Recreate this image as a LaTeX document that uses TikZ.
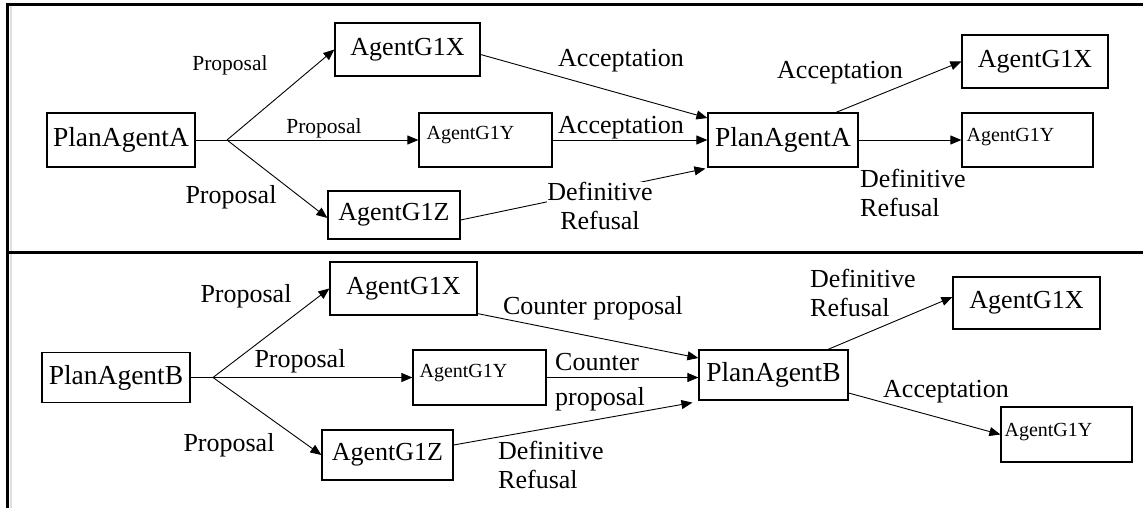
\documentclass[tikz,border=0pt]{standalone}
\usepackage{fontspec}
\setmainfont{Liberation Serif}
\usetikzlibrary{arrows.meta}
\begin{document}
\begin{tikzpicture}[x=1pt,y=-1pt,
  agent/.style 2 args={draw, line width=1.2pt, inner sep=0pt,
    minimum width=#1pt, minimum height=#2pt, font=\fontsize{26}{29}\selectfont},
  planner/.style={font=\fontsize{27.5}{30}\selectfont},
  plainbox/.style 2 args={draw, line width=1.2pt, inner sep=0pt,
    minimum width=#1pt, minimum height=#2pt},
  smalltext/.style={inner sep=0pt, anchor=west, font=\fontsize{20}{23}\selectfont},
  lbl/.style={inner sep=1pt, font=\fontsize{26}{29}\selectfont},
  slbl/.style={inner sep=1pt, font=\fontsize{21.5}{24}\selectfont},
  msg/.style={line width=0.9pt, -{Triangle[length=11pt,width=9pt]}},
  stem/.style={line width=0.9pt},
  frame/.style={line width=3pt}]

\useasboundingbox (0,0) rectangle (1143,508);

% panel frame
\draw[gray!25, line width=2pt] (10.5,6) -- (10.5,508);
\draw[frame] (7.5,3.5) -- (7.5,508);
\draw[frame] (6,5) -- (1143,5);
\draw[frame] (6,252.5) -- (1143,252.5);

% ---------- first negotiation ----------
\node[agent={148}{54}, planner] (PA1) at (121,140) {PlanAgentA};
\node[agent={145}{53}] (X1) at (407.5,49.5) {AgentG1X};
\node[plainbox={133}{54}] (Y1) at (485.5,140) {};
\node[smalltext] (Y1t) at ([xshift=8pt,yshift=5pt]Y1.west) {AgentG1Y};
\node[agent={132}{48}] (Z1) at (394,215) {AgentG1Z};
\node[agent={150}{54}, planner] (PA2) at (783,140) {PlanAgentA};
\node[agent={146}{53}] (X2) at (1035,61.5) {AgentG1X};
\node[plainbox={131}{54}] (Y2) at (1027.5,140) {};
\node[smalltext] (Y2t) at ([xshift=5pt,yshift=3pt]Y2.west) {AgentG1Y};

\coordinate (f1) at (227,140);
\draw[stem] (PA1.east) -- (f1);
\draw[msg] (f1) -- (X1.west);
\draw[msg] (f1) -- (Y1.west);
\draw[msg] (f1) -- ([yshift=-3pt]Z1.west);

\node[slbl] (p1) at (230,65) {Proposal};
\node[slbl] (p2) at (324,128) {Proposal};
\node[lbl] (p3) at (231,197) {Proposal};

\draw[msg] ([yshift=-5pt]X1.east) -- ([yshift=22pt]PA2.west);
\draw[msg] (Y1.east) -- (PA2.west);
\draw[msg] ([yshift=-5pt]Z1.east) -- ([xshift=-2pt,yshift=-1pt]PA2.south west);

\node[lbl] (a1) at (621,61) {Acceptation};
\node[lbl] (a2) at (621,128) {Acceptation};
\node[lbl, fill=white, align=center, inner sep=0pt] (r1) at (600,206) {Definitive\\Refusal};

\draw[msg] ([xshift=53pt]PA2.north) -- (X2.west);
\draw[msg] (PA2.east) -- (Y2.west);

\node[lbl] (a3) at (840,73) {Acceptation};
\node[lbl, align=left, anchor=west, inner sep=0pt] (r2) at (860,193) {Definitive\\Refusal};

% ---------- second negotiation ----------
\node[agent={148}{50}, planner] (PB1) at (116,377.5) {PlanAgentB};
\node[agent={147}{53}] (X3) at (403.5,288.5) {AgentG1X};
\node[plainbox={133}{55}] (Y3) at (479.5,377.5) {};
\node[smalltext] (Y3t) at ([xshift=7pt,yshift=4.5pt]Y3.west) {AgentG1Y};
\node[agent={131}{50}] (Z3) at (387.5,455) {AgentG1Z};
\node[agent={149}{50}, planner] (PB2) at (773.5,375) {PlanAgentB};
\node[agent={147}{52}] (X4) at (1026.5,303) {AgentG1X};
\node[plainbox={131}{55}] (Y4) at (1066.5,434.5) {};
\node[smalltext] (Y4t) at ([xshift=4pt,yshift=2.5pt]Y4.west) {AgentG1Y};

\coordinate (f2) at (213,377.5);
\draw[stem] (PB1.east) -- (f2);
\draw[msg] (f2) -- (X3.west);
\draw[msg] (f2) -- (Y3.west);
\draw[msg] (f2) -- (Z3.west);

\node[lbl] (p4) at (246,296) {Proposal};
\node[lbl] (p5) at (300,361) {Proposal};
\node[lbl] (p6) at (229,445) {Proposal};

\draw[msg] ([yshift=2pt]X3.south east) -- ([yshift=17pt]PB2.west);
\draw[msg] (Y3.east) -- (Y3.east -| PB2.west);
\draw[msg] ([yshift=10pt]Z3.east) -- ([xshift=-6pt,yshift=-2pt]PB2.south west);

\node[lbl] (c1) at (593,308) {Counter proposal};
\node[lbl, align=left, anchor=west, inner sep=0pt,
  font=\fontsize{26}{35}\selectfont] (c2) at (555,382) {Counter\\proposal};
\node[lbl, align=left, anchor=west, inner sep=0pt] (r3) at (498,465) {Definitive\\Refusal};

\draw[msg] ([xshift=54.5pt]PB2.north) -- ([yshift=6pt]X4.west);
\draw[msg] ([yshift=-18pt]PB2.east) -- (Y4.west);

\node[lbl, align=left, anchor=west, inner sep=0pt] (r4) at (810,293) {Definitive\\Refusal};
\node[lbl] (a4) at (946,392) {Acceptation};

\end{tikzpicture}
\end{document}
